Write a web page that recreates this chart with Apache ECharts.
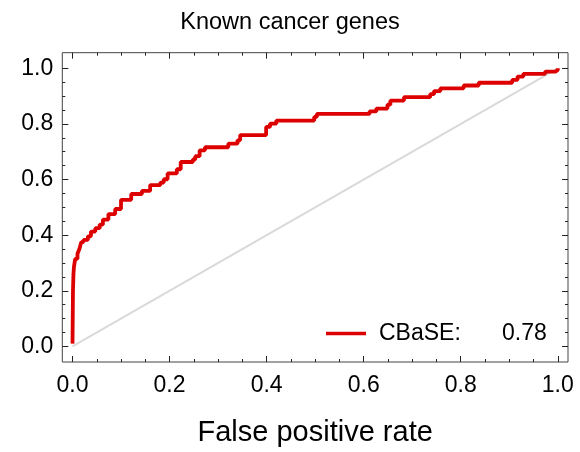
<!DOCTYPE html>
<html>
<head>
<meta charset="utf-8">
<script src="https://cdn.jsdelivr.net/npm/echarts@6/dist/echarts.min.js"></script>
<style>html,body{margin:0;padding:0;background:#fff;}#c{width:580px;height:452px;}</style>
</head>
<body>
<div id="c"></div>
<script>
// ROC curve (false positive rate, true positive rate), step corners
const fpr = [0, 0.001, 0.002, 0.003, 0.0056, 0.0103, 0.0144, 0.018, 0.0227, 0.0317, 0.038, 0.047, 0.056, 0.0627, 0.074, 0.088, 0.100, 0.121, 0.143, 0.160, 0.181, 0.188, 0.196, 0.215, 0.223, 0.248, 0.253, 0.262, 0.273, 0.321, 0.340, 0.3455, 0.399, 0.407, 0.420, 0.498, 0.5035, 0.612, 0.626, 0.649, 0.655, 0.683, 0.737, 0.745, 0.758, 0.806, 0.837, 0.906, 0.917, 0.929, 0.974, 0.995, 1.0];
const tpr = [0.01, 0.20, 0.26, 0.286, 0.315, 0.333, 0.351, 0.375, 0.383, 0.396, 0.413, 0.425, 0.438, 0.456, 0.476, 0.494, 0.527, 0.548, 0.559, 0.580, 0.589, 0.601, 0.622, 0.637, 0.663, 0.672, 0.684, 0.705, 0.716, 0.729, 0.741, 0.760, 0.789, 0.801, 0.812, 0.825, 0.836, 0.845, 0.855, 0.869, 0.884, 0.896, 0.907, 0.918, 0.928, 0.938, 0.948, 0.958, 0.970, 0.980, 0.988, 0.994, 1.0];
const diagX = [0, 1];
const diagY = [0, 1];
const seriesName = 'CBaSE:';
const aucValue = '0.78';
const majorTicks = [0, 0.2, 0.4, 0.6, 0.8, 1.0];
const minorTicks = [0.05, 0.1, 0.15, 0.25, 0.3, 0.35, 0.45, 0.5, 0.55, 0.65, 0.7, 0.75, 0.85, 0.9, 0.95];
const titleText = 'Known cancer genes';
const xLabel = 'False positive rate';

const FONT = '"Liberation Sans", Arial, sans-serif';
const xMin = -0.021, xMax = 1.021, yMin = -0.056, yMax = 1.056;
const frameColor = '#444';
const tickColor = '#222';

function axisSet(kind, position, values, len, labels, extra) {
  const a = {
    type: 'value', position: position, min: kind === 'x' ? xMin : yMin, max: kind === 'x' ? xMax : yMax,
    axisLine: {show: false, onZero: false},
    splitLine: {show: false},
    axisTick: {show: true, inside: true, length: len, customValues: values, lineStyle: {color: tickColor, width: 1}},
    axisLabel: labels ? {show: true, customValues: values, fontFamily: FONT, fontSize: 23, color: '#000', margin: kind === 'x' ? 12 : 9,
      formatter: v => v.toFixed(1)} : {show: false}
  };
  return Object.assign(a, extra || {});
}

const chart = echarts.init(document.getElementById('c'), null, {renderer: 'canvas'});
chart.setOption({
  animation: false,
  backgroundColor: '#fff',
  title: {text: titleText, left: 'center', top: 11, padding: 0,
    textStyle: {fontFamily: FONT, fontSize: 23.5, fontWeight: 'normal', color: '#000'}},
  grid: {left: 62.3, top: 52.7, right: 12, bottom: 88, show: true, borderColor: frameColor, borderWidth: 1, backgroundColor: 'transparent'},
  xAxis: [
    axisSet('x', 'bottom', majorTicks, 6, true, {name: xLabel, nameLocation: 'middle', nameGap: 56,
      nameTextStyle: {fontFamily: FONT, fontSize: 29, color: '#000'}}),
    axisSet('x', 'bottom', minorTicks, 3, false),
    axisSet('x', 'top', majorTicks, 6, false),
    axisSet('x', 'top', minorTicks, 3, false)
  ],
  yAxis: [
    axisSet('y', 'left', majorTicks, 6, true),
    axisSet('y', 'left', minorTicks, 3, false),
    axisSet('y', 'right', majorTicks, 6, false),
    axisSet('y', 'right', minorTicks, 3, false)
  ],
  legend: {
    show: true, left: 326, top: 322, padding: 0, icon: 'rect', itemWidth: 40, itemHeight: 3.5,
    data: [seriesName],
    formatter: name => '{a|' + name + '}{b|' + aucValue + '}',
    textStyle: {fontFamily: FONT, fontSize: 23, color: '#000',
      rich: {a: {fontFamily: FONT, fontSize: 23, width: 123, padding: [0, 0, 0, 8]}, b: {fontFamily: FONT, fontSize: 23}}}
  },
  series: [
    {type: 'line', name: 'diag', data: diagX.map((x, i) => [x, diagY[i]]), showSymbol: false, silent: true,
      lineStyle: {color: '#d9d9d9', width: 2}, z: 1},
    {type: 'line', name: seriesName, data: fpr.map((x, i) => [x, tpr[i]]), step: 'end', showSymbol: false,
      itemStyle: {color: '#dd0000'}, lineStyle: {color: '#dd0000', width: 3.8}, z: 3}
  ]
});
</script>
</body>
</html>
